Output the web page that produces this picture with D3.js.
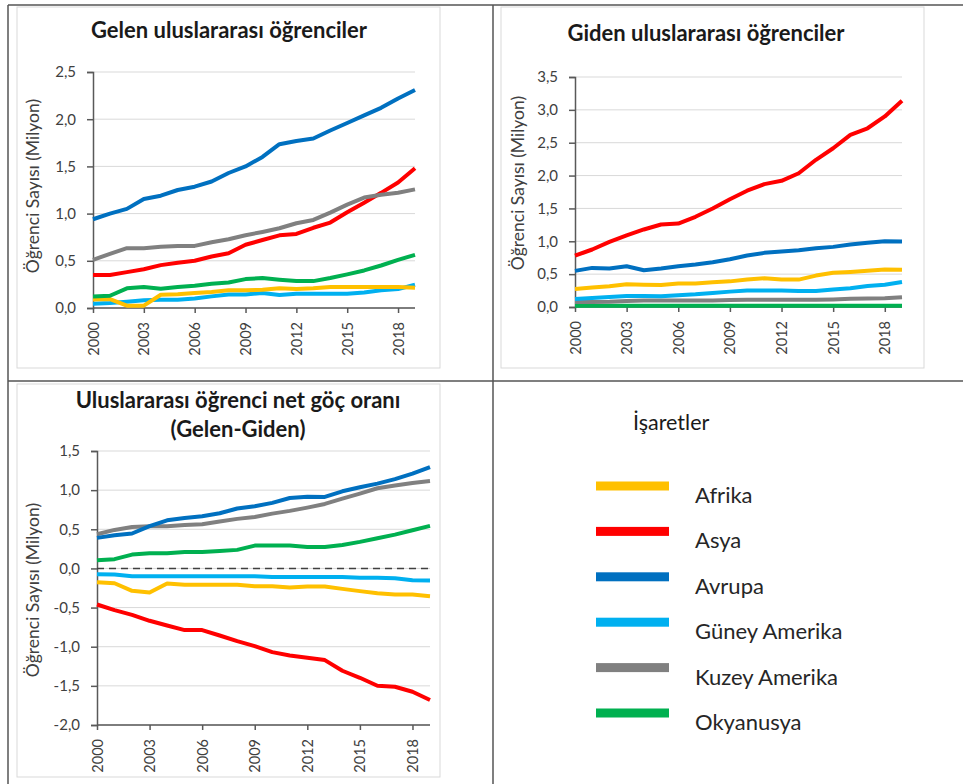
<!DOCTYPE html>
<html lang="tr">
<head>
<meta charset="UTF-8">
<title>Uluslararası öğrenciler</title>
<script src="https://d3js.org/d3.v7.min.js"></script>
<style>
    body { margin: 0; background: #fff; }
    svg { display: block; font-family: Lato, "Open Sans", sans-serif; }
</style>
</head>
<body>
<script>
    // years on the x axis
    var years = d3.range(2000, 2020);
    var yearTicks = [2000, 2003, 2006, 2009, 2012, 2015, 2018];

    var regions = ["Afrika", "Asya", "Avrupa", "Güney Amerika", "Kuzey Amerika", "Okyanusya"];
    var colors = ["#FFC000", "#FF0000", "#0070C0", "#00B0F0", "#808080", "#00B050"];

    // Gelen (incoming), million students
    var gelenAfrika = [0.09, 0.095, 0.025, 0.025, 0.14, 0.145, 0.158, 0.17, 0.187, 0.187, 0.194, 0.208, 0.2, 0.208, 0.222, 0.222, 0.222, 0.222, 0.222, 0.215];
    var gelenAsya = [0.35, 0.35, 0.38, 0.41, 0.454, 0.48, 0.5, 0.546, 0.58, 0.67, 0.72, 0.77, 0.785, 0.85, 0.905, 1.014, 1.116, 1.22, 1.33, 1.48];
    var gelenAvrupa = [0.94, 1.0, 1.05, 1.155, 1.19, 1.25, 1.285, 1.34, 1.43, 1.5, 1.6, 1.735, 1.77, 1.795, 1.88, 1.96, 2.04, 2.12, 2.22, 2.31];
    var gelenGuney = [0.046, 0.053, 0.067, 0.081, 0.088, 0.088, 0.1, 0.123, 0.144, 0.144, 0.158, 0.137, 0.151, 0.151, 0.151, 0.151, 0.165, 0.187, 0.2, 0.246];
    var gelenKuzey = [0.51, 0.574, 0.634, 0.634, 0.648, 0.658, 0.658, 0.697, 0.729, 0.771, 0.806, 0.845, 0.898, 0.933, 1.01, 1.095, 1.17, 1.2, 1.22, 1.257];
    var gelenOkyanusya = [0.123, 0.13, 0.208, 0.222, 0.204, 0.222, 0.236, 0.257, 0.27, 0.306, 0.317, 0.3, 0.285, 0.285, 0.317, 0.356, 0.398, 0.45, 0.51, 0.563];

    // Giden (outgoing)
    var gidenAfrika = [0.275, 0.295, 0.315, 0.346, 0.34, 0.336, 0.356, 0.356, 0.376, 0.39, 0.417, 0.437, 0.417, 0.417, 0.478, 0.52, 0.534, 0.55, 0.57, 0.565];
    var gidenAsya = [0.78, 0.875, 0.99, 1.09, 1.18, 1.256, 1.27, 1.373, 1.5, 1.64, 1.77, 1.87, 1.92, 2.035, 2.24, 2.416, 2.62, 2.72, 2.9, 3.14];
    var gidenAvrupa = [0.55, 0.595, 0.585, 0.62, 0.56, 0.585, 0.62, 0.646, 0.68, 0.727, 0.783, 0.824, 0.845, 0.865, 0.895, 0.915, 0.95, 0.977, 1.0, 0.997];
    var gidenGuney = [0.122, 0.137, 0.153, 0.168, 0.168, 0.163, 0.178, 0.193, 0.214, 0.234, 0.25, 0.25, 0.25, 0.244, 0.244, 0.265, 0.285, 0.32, 0.34, 0.38];
    var gidenKuzey = [0.076, 0.076, 0.08, 0.09, 0.1, 0.1, 0.1, 0.1, 0.1, 0.105, 0.11, 0.11, 0.11, 0.11, 0.11, 0.115, 0.125, 0.13, 0.133, 0.15];
    var gidenOkyanusya = [0.02, 0.02, 0.02, 0.02, 0.02, 0.02, 0.02, 0.02, 0.02, 0.02, 0.02, 0.02, 0.02, 0.02, 0.02, 0.02, 0.02, 0.02, 0.02, 0.02];

    // Net (Gelen-Giden)
    var netAfrika = [-0.176, -0.189, -0.286, -0.308, -0.193, -0.21, -0.21, -0.21, -0.21, -0.227, -0.227, -0.244, -0.231, -0.231, -0.261, -0.29, -0.316, -0.333, -0.333, -0.354];
    var netAsya = [-0.461, -0.533, -0.593, -0.669, -0.729, -0.788, -0.788, -0.857, -0.929, -0.993, -1.069, -1.112, -1.142, -1.171, -1.307, -1.397, -1.499, -1.512, -1.575, -1.681];
    var netAvrupa = [0.39, 0.425, 0.446, 0.54, 0.615, 0.645, 0.667, 0.705, 0.765, 0.794, 0.837, 0.9, 0.917, 0.913, 0.985, 1.036, 1.083, 1.14, 1.21, 1.295];
    var netGuney = [-0.074, -0.078, -0.1, -0.1, -0.1, -0.1, -0.1, -0.1, -0.1, -0.1, -0.108, -0.108, -0.108, -0.108, -0.108, -0.12, -0.12, -0.125, -0.15, -0.155];
    var netKuzey = [0.437, 0.492, 0.53, 0.54, 0.54, 0.556, 0.565, 0.599, 0.633, 0.658, 0.7, 0.735, 0.777, 0.824, 0.892, 0.956, 1.024, 1.058, 1.092, 1.117];
    var netOkyanusya = [0.105, 0.118, 0.177, 0.194, 0.194, 0.211, 0.211, 0.224, 0.237, 0.292, 0.292, 0.292, 0.275, 0.275, 0.3, 0.339, 0.386, 0.432, 0.488, 0.543];

    var gelenTicks = [0, 0.5, 1, 1.5, 2, 2.5];
    var gidenTicks = [0, 0.5, 1, 1.5, 2, 2.5, 3, 3.5];
    var netTicks = [-2, -1.5, -1, -0.5, 0, 0.5, 1, 1.5];

    var fmt = function (v) { return d3.format(".1f")(v).replace(".", ",").replace("−", "-"); };

    var svg = d3.select("body").append("svg")
        .attr("width", 963)
        .attr("height", 784);

    // panel frame
    var frame = svg.append("g").attr("stroke", "#555").attr("stroke-width", 1.5);
    frame.append("line").attr("x1", 8).attr("y1", 5).attr("x2", 963).attr("y2", 5);
    frame.append("line").attr("x1", 8).attr("y1", 381).attr("x2", 963).attr("y2", 381);
    frame.append("line").attr("x1", 8).attr("y1", 5).attr("x2", 8).attr("y2", 784);
    frame.append("line").attr("x1", 493).attr("y1", 5).attr("x2", 493).attr("y2", 784);

    function drawChart(cfg) {
        // light chart area border
        svg.append("rect")
            .attr("x", cfg.box[0]).attr("y", cfg.box[1])
            .attr("width", cfg.box[2]).attr("height", cfg.box[3])
            .attr("fill", "none").attr("stroke", "#D9D9D9");

        var x = d3.scaleLinear().domain([2000, 2019]).range([cfg.left, cfg.right]);
        var y = d3.scaleLinear().domain([cfg.ticks[0], cfg.ticks[cfg.ticks.length - 1]]).range([cfg.bottom, cfg.top]);
        var g = svg.append("g");

        // gridlines
        g.selectAll(".grid").data(cfg.ticks).enter().append("line")
            .attr("x1", cfg.left).attr("x2", cfg.right)
            .attr("y1", function (d) { return y(d); }).attr("y2", function (d) { return y(d); })
            .attr("stroke", "#D9D9D9").attr("stroke-width", 1);

        // y axis
        var yAxis = g.append("g").attr("transform", "translate(" + cfg.left + ",0)")
            .call(d3.axisLeft(y).tickValues(cfg.ticks).tickFormat(fmt).tickSize(6).tickPadding(11));
        yAxis.select(".domain").attr("stroke", "#595959").attr("stroke-width", 1.5);
        yAxis.selectAll(".tick line").attr("stroke", "#595959").attr("stroke-width", 1.5);
        yAxis.selectAll("text").attr("font-size", 15).attr("fill", "#404040").attr("font-family", "Lato");

        // zero line of the net chart
        if (cfg.zero) {
            g.append("line")
                .attr("x1", cfg.left).attr("x2", cfg.right)
                .attr("y1", y(0)).attr("y2", y(0))
                .attr("stroke", "#404040").attr("stroke-width", 1.5)
                .attr("stroke-dasharray", "7,5");
        }

        // x axis
        var xAxis = g.append("g").attr("transform", "translate(0," + cfg.bottom + ")")
            .call(d3.axisBottom(x).tickValues(yearTicks).tickFormat(d3.format("d")).tickSize(5).tickSizeOuter(0));
        xAxis.select(".domain").attr("stroke", "#595959").attr("stroke-width", 1.5)
            .attr("d", "M" + cfg.left + ",0H" + cfg.right);
        xAxis.selectAll(".tick line").attr("stroke", "#595959").attr("stroke-width", 1.5);
        xAxis.selectAll("text")
            .attr("font-size", 14.5).attr("fill", "#404040").attr("font-family", "Lato")
            .attr("text-anchor", "end")
            .attr("dy", "0.35em")
            .attr("transform", "translate(0,8) rotate(-90)")
            .attr("x", -6).attr("y", 0);

        // series
        var line = d3.line()
            .x(function (d, i) { return x(years[i]); })
            .y(function (d) { return y(d); });
        g.selectAll(".series").data(cfg.values).enter().append("path")
            .attr("fill", "none")
            .attr("stroke", function (d, i) { return colors[cfg.order[i]]; })
            .attr("stroke-width", 4)
            .attr("stroke-linejoin", "round")
            .attr("d", line);

        // y axis title
        g.append("text")
            .attr("transform", "translate(" + cfg.ytitle[0] + "," + cfg.ytitle[1] + ") rotate(-90)")
            .attr("text-anchor", "middle")
            .attr("font-size", 17.5).attr("fill", "#404040")
            .text("Öğrenci Sayısı (Milyon)");

        // chart title
        cfg.title.forEach(function (t, i) {
            g.append("text")
                .attr("x", cfg.titlePos[0]).attr("y", cfg.titlePos[1] + i * 29)
                .attr("text-anchor", "middle")
                .attr("font-size", 22).attr("font-weight", "bold").attr("fill", "#1a1a1a")
                .text(t);
        });
    }

    drawChart({
        box: [17, 7, 423, 361],
        left: 93, right: 415, top: 72, bottom: 308,
        ticks: gelenTicks,
        values: [gelenGuney, gelenAfrika, gelenOkyanusya, gelenAsya, gelenKuzey, gelenAvrupa],
        order: [3, 0, 5, 1, 4, 2],
        ytitle: [39, 186],
        title: ["Gelen uluslararası öğrenciler"],
        titlePos: [229, 38]
    });

    drawChart({
        box: [501, 7, 423, 361],
        left: 575, right: 902, top: 77, bottom: 307,
        ticks: gidenTicks,
        values: [gidenOkyanusya, gidenKuzey, gidenGuney, gidenAfrika, gidenAvrupa, gidenAsya],
        order: [5, 4, 3, 0, 2, 1],
        ytitle: [524, 183],
        title: ["Giden uluslararası öğrenciler"],
        titlePos: [706, 41]
    });

    drawChart({
        box: [17, 384, 423, 393],
        left: 97, right: 430, top: 451, bottom: 725,
        ticks: netTicks,
        values: [netAfrika, netGuney, netOkyanusya, netKuzey, netAvrupa, netAsya],
        order: [0, 3, 5, 4, 2, 1],
        zero: true,
        ytitle: [39, 590],
        title: ["Uluslararası öğrenci net göç oranı", "(Gelen-Giden)"],
        titlePos: [238, 408]
    });

    // legend
    var legend = svg.append("g");
    legend.append("text")
        .attr("x", 633).attr("y", 430)
        .attr("font-size", 21.5).attr("fill", "#1a1a1a")
        .text("İşaretler");

    var ly = d3.scalePoint().domain(regions).range([486, 713]);
    var items = legend.selectAll(".item").data(regions).enter().append("g");
    items.append("rect")
        .attr("x", 596).attr("y", function (d) { return ly(d) - 4.5; })
        .attr("width", 73).attr("height", 9)
        .attr("fill", function (d, i) { return colors[i]; });
    items.append("text")
        .attr("x", 695).attr("y", function (d) { return ly(d) + 17; })
        .attr("font-size", 22).attr("fill", "#262626")
        .text(function (d) { return d; });
</script>
</body>
</html>
